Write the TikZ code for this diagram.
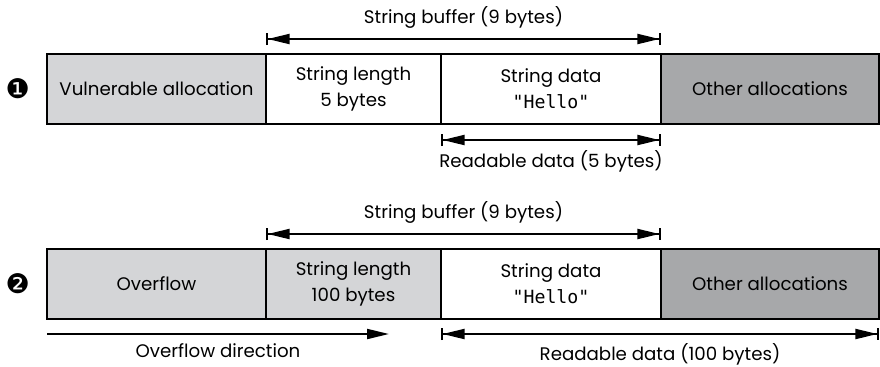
\documentclass[tikz,border=0pt]{standalone}
\usepackage{fontspec}
\setmainfont{Poppins}
\setmonofont{DejaVu Sans Mono}
\newfontfamily\dingfont{DejaVu Sans}
\usepackage{xcolor}
\usepackage{tikz}
\usetikzlibrary{positioning, arrows.meta}
\definecolor{lightfill}{RGB}{212,213,215}
\definecolor{darkfill}{RGB}{167,168,170}

\begin{document}
\begin{tikzpicture}[
    x=0.5pt, y=-0.5pt,
    font=\fontsize{9.1}{13}\selectfont,
    cell/.style={rectangle, draw, line width=1.2pt, minimum height=35pt, outer sep=0pt, align=center, inner sep=0pt},
    dim/.style={{Bar[width=6pt,line width=0.8pt]Triangle[length=11pt,width=5pt]}-{Triangle[length=11pt,width=5pt]Bar[width=6pt,line width=0.8pt]}, line width=1pt},
    onedir/.style={-{Triangle[length=11pt,width=5pt]}, line width=1pt},
    marker/.style={font=\dingfont\fontsize{13.5}{13.5}\selectfont}
]
    \useasboundingbox (0,0) rectangle (880,366);

    % Step 1 - normal layout
    \node[cell, fill=lightfill, minimum width=109.5pt, anchor=north west] (vuln) at (47,54) {Vulnerable allocation};
    \node[cell, right=0pt of vuln, minimum width=87.5pt] (len1) {String length\\5 bytes};
    \node[cell, right=0pt of len1, minimum width=110pt] (data1) {String data\\\texttt{"Hello"}};
    \node[cell, right=0pt of data1, fill=darkfill, minimum width=109pt] (other1) {Other allocations};
    \node[marker, left=5pt of vuln] (one) {❶};

    % Step 2 - after the overflow
    \node[cell, fill=lightfill, minimum width=109.5pt, anchor=north west] (over) at (47,249) {Overflow};
    \node[cell, right=0pt of over, fill=lightfill, minimum width=87.5pt] (len2) {String length\\100 bytes};
    \node[cell, right=0pt of len2, minimum width=110pt] (data2) {String data\\\texttt{"Hello"}};
    \node[cell, right=0pt of data2, fill=darkfill, minimum width=109pt] (other2) {Other allocations};
    \node[marker, left=5pt of over] (two) {❷};

    % Arrow ends
    \coordinate (bufA1) at ([yshift=7.5pt]len1.north west);
    \coordinate (bufB1) at ([yshift=7.5pt]data1.north east);
    \coordinate (readA1) at ([yshift=-8pt]data1.south west);
    \coordinate (readB1) at ([yshift=-8pt]data1.south east);
    \coordinate (bufA2) at ([yshift=7.5pt]len2.north west);
    \coordinate (bufB2) at ([yshift=7.5pt]data2.north east);
    \coordinate (flowA) at ([yshift=-7.5pt]over.south west);
    \coordinate (flowB) at ([yshift=-7.5pt,xshift=-26pt]len2.south east);
    \coordinate (readA2) at ([yshift=-7.5pt]data2.south west);
    \coordinate (readB2) at ([yshift=-7.5pt]other2.south east);

    % Arrows with labels
    \draw[dim] (bufA1) -- node[above=1.5pt] (buflab1) {String buffer (9 bytes)} (bufB1);
    \draw[dim] (readA1) -- node[below=1.5pt] (readlab1) {Readable data (5 bytes)} (readB1);
    \draw[dim] (bufA2) -- node[above=1.5pt] (buflab2) {String buffer (9 bytes)} (bufB2);
    \draw[onedir] (flowA) -- node[below=1pt, pos=0.5] (flowlab) {Overflow direction} (flowB);
    \draw[dim] (readA2) -- node[below=1pt] (readlab2) {Readable data (100 bytes)} (readB2);

\end{tikzpicture}
\end{document}
